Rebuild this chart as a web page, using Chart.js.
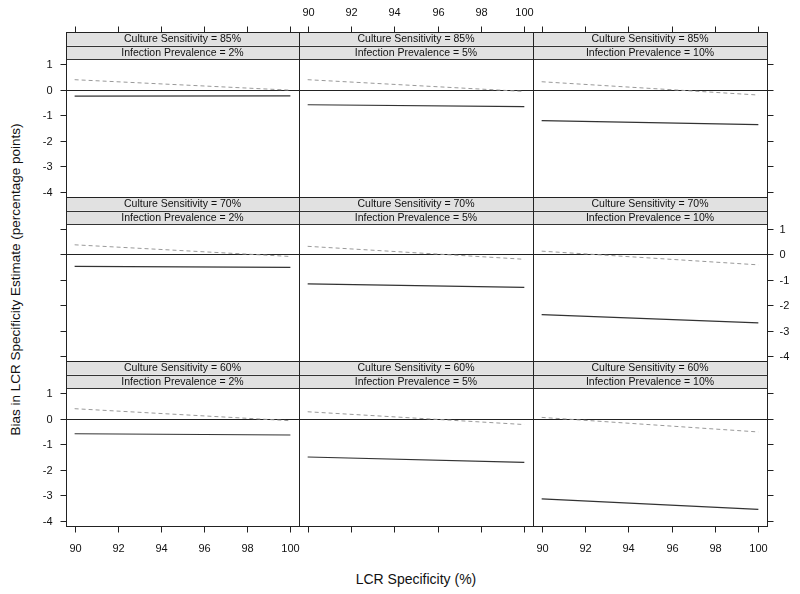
<!DOCTYPE html>
<html><head><meta charset="utf-8">
<script src="https://cdn.jsdelivr.net/npm/chart.js@4/dist/chart.umd.min.js"></script>
<style>
html,body{margin:0;padding:0;background:#fff;}
#wrap{position:relative;width:800px;height:594px;overflow:hidden;background:#fff;}
#wrap canvas{position:absolute;left:0;top:0;}
.t{position:absolute;font-family:Arial,"Liberation Sans",Helvetica,sans-serif;color:#111;white-space:nowrap;}
</style></head><body>
<div id="wrap">
  <div class="t" style="left:316px;width:200px;top:571px;text-align:center;font-size:14px;">LCR Specificity (%)</div>
  <div class="t" style="left:-185px;width:400px;top:272px;text-align:center;font-size:13.5px;transform:rotate(-90deg);">Bias in LCR Specificity Estimate (percentage points)</div>
</div>
<script>
// ---- data ----
const specificity = [90, 100];
const xTicks = [90, 92, 94, 96, 98, 100];
const yTicks = [-4, -3, -2, -1, 0, 1];
const sensitivityLabels = ['Culture Sensitivity = 85%', 'Culture Sensitivity = 70%', 'Culture Sensitivity = 60%'];
const prevalenceLabels = ['Infection Prevalence = 2%', 'Infection Prevalence = 5%', 'Infection Prevalence = 10%'];
// each pair: bias at specificity 90 and 100, per prevalence 2%, 5%, 10%
const solidSe85  = [[-0.25, -0.24], [-0.59, -0.66], [-1.21, -1.37]];
const dashedSe85 = [[0.39, -0.02], [0.39, -0.07], [0.31, -0.21]];
const solidSe70  = [[-0.47, -0.51], [-1.16, -1.30], [-2.37, -2.70]];
const dashedSe70 = [[0.38, -0.08], [0.32, -0.19], [0.13, -0.41]];
const solidSe60  = [[-0.59, -0.64], [-1.50, -1.71], [-3.14, -3.55]];
const dashedSe60 = [[0.39, -0.08], [0.27, -0.23], [0.05, -0.52]];

const solidRows = [solidSe85, solidSe70, solidSe60];
const dashedRows = [dashedSe85, dashedSe70, dashedSe60];

// ---- layout ----
const W = 800, H = 594;
const colEdges = [66, 299, 533, 767];
const rowTops = [32, 197, 361];
const rowBottoms = [197, 361, 526];
const stripH = 13.5;
const FONT = 'Arial, "Liberation Sans", Helvetica, sans-serif';

const wrap = document.getElementById('wrap');

function panelPlugin(r, c) {
  return {
    id: 'panel' + r + c,
    beforeDatasetsDraw(chart) {
      const ctx = chart.ctx, a = chart.chartArea, ys = chart.scales.y;
      const y0 = Math.round(ys.getPixelForValue(0)) + 0.5;
      ctx.save();
      ctx.strokeStyle = '#222'; ctx.lineWidth = 1;
      ctx.beginPath(); ctx.moveTo(a.left, y0); ctx.lineTo(a.right, y0); ctx.stroke();
      ctx.restore();
    },
    afterDatasetsDraw(chart) {
      const ctx = chart.ctx, a = chart.chartArea, xs = chart.scales.x, ys = chart.scales.y;
      const top = rowTops[r];
      ctx.save();
      // strips
      const labels = [sensitivityLabels[r], prevalenceLabels[c]];
      for (let i = 0; i < 2; i++) {
        const sy = top + i * stripH;
        ctx.fillStyle = '#e1e1e1';
        ctx.fillRect(a.left, sy, a.right - a.left, stripH);
        ctx.strokeStyle = '#333'; ctx.lineWidth = 1;
        ctx.beginPath(); ctx.moveTo(a.left, Math.round(sy) + 0.5); ctx.lineTo(a.right, Math.round(sy) + 0.5); ctx.stroke();
        ctx.fillStyle = '#111';
        ctx.font = '10.5px ' + FONT;
        ctx.textAlign = 'center'; ctx.textBaseline = 'middle';
        ctx.fillText(labels[i], (a.left + a.right) / 2, sy + stripH / 2 + 0.5);
      }
      ctx.strokeStyle = '#333';
      ctx.beginPath(); ctx.moveTo(a.left, Math.round(a.top) + 0.5); ctx.lineTo(a.right, Math.round(a.top) + 0.5); ctx.stroke();
      // frame
      ctx.strokeStyle = '#222';
      ctx.strokeRect(Math.round(a.left) + 0.5, Math.round(top) + 0.5, Math.round(a.right - a.left), Math.round(a.bottom - top));
      // ticks
      ctx.font = '11px ' + FONT;
      ctx.fillStyle = '#111';
      const tl = 6;
      if (r === 2 || r === 0) {
        const bottom = r === 2;
        const labeled = bottom ? (c !== 1) : (c === 1);
        const ey = bottom ? Math.round(a.bottom) + 0.5 : Math.round(top) + 0.5;
        xTicks.forEach(v => {
          const px = Math.round(xs.getPixelForValue(v)) + 0.5;
          ctx.beginPath();
          ctx.moveTo(px, ey); ctx.lineTo(px, bottom ? ey + tl : ey - tl); ctx.stroke();
          if (labeled) {
            ctx.textAlign = 'center'; ctx.textBaseline = 'middle';
            ctx.fillText(String(v), px, bottom ? ey + 22 : ey - 20);
          }
        });
      }
      if (c === 0 || c === 2) {
        const left = c === 0;
        const labeled = left ? (r !== 1) : (r === 1);
        const ex = left ? Math.round(a.left) + 0.5 : Math.round(a.right) + 0.5;
        yTicks.forEach(v => {
          const py = Math.round(ys.getPixelForValue(v)) + 0.5;
          ctx.beginPath();
          ctx.moveTo(ex, py); ctx.lineTo(left ? ex - tl : ex + tl, py); ctx.stroke();
          if (labeled) {
            ctx.textBaseline = 'middle';
            if (left) { ctx.textAlign = 'right'; ctx.fillText(String(v), ex - 14, py); }
            else { ctx.textAlign = 'left'; ctx.fillText(String(v), ex + 12, py); }
          }
        });
      }
      ctx.restore();
    }
  };
}

for (let r = 0; r < 3; r++) {
  for (let c = 0; c < 3; c++) {
    const cv = document.createElement('canvas');
    cv.width = W; cv.height = H;
    cv.style.width = W + 'px'; cv.style.height = H + 'px';
    wrap.appendChild(cv);
    const solid = solidRows[r][c], dashed = dashedRows[r][c];
    new Chart(cv.getContext('2d'), {
      type: 'line',
      data: {
        datasets: [
          { label: 'Bias (solid)', data: specificity.map((x, i) => ({ x, y: solid[i] })),
            borderColor: '#333', borderWidth: 1.2, pointRadius: 0, tension: 0, fill: false },
          { label: 'Bias (dashed)', data: specificity.map((x, i) => ({ x, y: dashed[i] })),
            borderColor: '#999', borderWidth: 1, borderDash: [4, 3], pointRadius: 0, tension: 0, fill: false }
        ]
      },
      options: {
        responsive: false, animation: false, devicePixelRatio: 1,
        layout: { padding: { left: colEdges[c], right: W - colEdges[c + 1], top: rowTops[r] + 2 * stripH, bottom: H - rowBottoms[r] } },
        plugins: { legend: { display: false }, tooltip: { enabled: false }, title: { display: false } },
        events: [],
        scales: {
          x: { type: 'linear', min: 89.6, max: 100.4, display: false },
          y: { type: 'linear', min: -4.2, max: 1.2, display: false }
        }
      },
      plugins: [panelPlugin(r, c)]
    });
  }
}
</script>
</body></html>
